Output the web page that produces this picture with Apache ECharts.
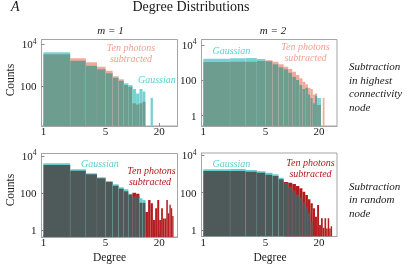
<!DOCTYPE html>
<html><head><meta charset="utf-8">
<script src="https://cdn.jsdelivr.net/npm/echarts@6/dist/echarts.min.js"></script>
<style>html,body{margin:0;padding:0;background:#fff}#c{width:407px;height:266px}</style>
</head><body><div id="c"></div>
<script>
// ---- data ----
const xTicks = [1, 5, 20];
const yTicks = [1, 100, 10000];

// top-left: m = 1, subtraction in highest connectivity node
const degTL = [1,2,3,4,5,6,7,8,9,10,11,12,13,14,15,16];
const gaussTL = [4240,1700,980,657,424,263,190,142,118,76,47,76,57,0,0,29];
const tenTL   = [3400,2195,1415,880,567,305,219,118,95,16,14,16,19,0,0,0];

// top-right: m = 2, subtraction in highest connectivity node
const degTR = [1,2,3,4,5,6,7,8,9,10,11,12,13,14,15,16,17,18,19,20,21,22];
const gaussTR = [1670,1740,1800,1600,1180,800,540,417,270,160,104,54,32,38,16,10,5,14,10,10,0,0];
const tenTR   = [1080,1130,1130,1230,1345,1130,800,590,435,307,199,129,84,59,38,32,16,18,4,4,0,10];

// bottom-left: m = 1, subtraction in random node
const degBL = [1,2,3,4,5,6,7,8,9,10,11,12,13,14,15,16,17,18,19,20,21,22,23,24,25,26,27,28];
const gaussBL = [4045,1930,1177,718,456,303,209,163,95,66,66,54,44,0,0,0,0,0,0,0,0,0,0,0,0,0,0,0];
const tenBL   = [3290,1635,1040,635,404,257,177,128,85,108,95,31,31,10,44,29,3.7,16,44,3.7,16,4.5,4.5,44,8.4,24,16,6];

// bottom-right: m = 2, subtraction in random node
const degBR = [1,2,3,4,5,6,7,8,9,10,11,12,13,14,15,16,17,18,19,20,21,22,23,24,25,26,27];
const gaussBR = [1790,1860,1650,1400,1186,966,640,318,194,128,75,50,29,16.4,7.8,2.8,0,0,0,0,0,0,0,0,0,0,0];
const tenBR   = [1460,1460,1340,1186,926,786,521,375,345,293,229,172,114,75,44,27,14.5,5.2,22,1.85,4.2,1.3,4.2,1.2,4.2,1.2,1.6];

// ---- layout / style ----
const SERIF = 'Liberation Serif';
const topCols = {g:'#74d3d2', t:'#f2a898', o:'#6c9d8e'};
const botCols = {g:'#62cfcf', t:'#b3191c', o:'#4e5a5a'};
const panels = [
  {deg:degTL, g:gaussTL, t:tenTL, left:41.5, top:39.5, width:136, height:86.5, xmin:0.952, xmax:32.1, ymin:1.315, ymax:17300, c:topCols},
  {deg:degTR, g:gaussTR, t:tenTR, left:201.5, top:39.5, width:135.5, height:86.5, xmin:0.954, xmax:31.8, ymin:0.262, ymax:20200, c:topCols},
  {deg:degBL, g:gaussBL, t:tenBL, left:41.5, top:153.5, width:136, height:83.5, xmin:0.952, xmax:32.1, ymin:0.454, ymax:13600, c:botCols},
  {deg:degBR, g:gaussBR, t:tenBR, left:201.5, top:153, width:135.5, height:83.5, xmin:0.954, xmax:31.8, ymin:0.448, ymax:13450, c:botCols}
];

const L = Math.log10;
function yFmt(v){
  const n = Math.round(Math.pow(10, v));
  if (n >= 1000) return '{b|10}{s|' + Math.round(v) + '}';
  return '{b|' + n + '}';
}
function makeRender(p){
  return function(params, api){
    const k = api.value(0), g = api.value(1), t = api.value(2);
    const lx0 = L(k), lx1 = L(k + 1), lb = L(p.ymin);
    const b0 = api.coord([lx0, lb]), b1 = api.coord([lx1, lb]);
    const x0 = b0[0], x1 = b1[0], yb = b0[1];
    const hi = Math.max(g, t), lo = Math.min(g, t);
    const ch = [];
    if (hi > 0){
      const yh = api.coord([lx0, L(hi)])[1];
      ch.push({type:'rect', shape:{x:x0, y:yh, width:x1-x0, height:yb-yh},
        style:{fill: g >= t ? p.c.g : p.c.t, stroke:'rgba(255,255,255,0.1)', lineWidth:0.5}});
    }
    if (lo > 0){
      const yl = api.coord([lx0, L(lo)])[1];
      ch.push({type:'rect', shape:{x:x0, y:yl, width:x1-x0, height:yb-yl},
        style:{fill: p.c.o, stroke:'rgba(255,255,255,0.08)', lineWidth:0.5}});
    }
    return {type:'group', children:ch};
  };
}

const grid = [], xAxis = [], yAxis = [], series = [];
panels.forEach((p, i) => {
  grid.push({left:p.left, top:p.top, width:p.width, height:p.height, show:true,
    borderColor:'#a5a5a5', borderWidth:1, backgroundColor:'transparent'});
  xAxis.push({gridIndex:i, type:'value', min:L(p.xmin), max:L(p.xmax),
    splitLine:{show:false},
    axisLine:{show:true, onZero:false, lineStyle:{color:'#a5a5a5'}},
    axisTick:{show:true, inside:true, length:3, lineStyle:{color:'#888'}, customValues:xTicks.map(L)},
    axisLabel:{customValues:xTicks.map(L), margin:1,
      formatter: v => String(Math.round(Math.pow(10, v))),
      color:'#1a1a1a', fontFamily:SERIF, fontSize:11}});
  yAxis.push({gridIndex:i, type:'value', min:L(p.ymin), max:L(p.ymax),
    splitLine:{show:false},
    axisLine:{show:true, onZero:false, lineStyle:{color:'#a5a5a5'}},
    axisTick:{show:true, inside:true, length:3, lineStyle:{color:'#888'}, customValues:yTicks.map(L)},
    axisLabel:{customValues:yTicks.map(L), margin:5, formatter:yFmt,
      color:'#1a1a1a', fontFamily:SERIF,
      rich:{b:{fontFamily:SERIF, fontSize:11, color:'#1a1a1a', lineHeight:13, verticalAlign:'bottom'},
            s:{fontFamily:SERIF, fontSize:7.5, color:'#1a1a1a', lineHeight:13, verticalAlign:'top', padding:[0,0,5,0]}}}});
  series.push({type:'custom', xAxisIndex:i, yAxisIndex:i, clip:true,
    renderItem: makeRender(p),
    data: p.deg.map((k, j) => [k, p.g[j], p.t[j]])});
});

function txt(x, y, s, o){
  o = o || {};
  return {type:'text', x:x, y:y, rotation:o.rot || 0, silent:true,
    style:{text:s, fill:o.fill || '#1a1a1a', textAlign:o.align || 'left', textVerticalAlign:'middle',
      font:(o.italic ? 'italic ' : '') + (o.size || 11) + 'px "' + SERIF + '"'}};
}
const sal = '#f0a292', cya = '#5ccfd0', red = '#b5161c';
const graphic = [
  txt(11, 7, 'A', {italic:true, size:14}),
  txt(191, 7, 'Degree Distributions', {align:'center', size:14}),
  txt(110.5, 31.5, 'm = 1', {italic:true, align:'center', size:11}),
  txt(273, 31.5, 'm = 2', {italic:true, align:'center', size:11}),
  txt(11, 80, 'Counts', {align:'center', size:11.5, rot:Math.PI/2}),
  txt(11, 190, 'Counts', {align:'center', size:11.5, rot:Math.PI/2}),
  txt(109.5, 258, 'Degree', {align:'center', size:11.5}),
  txt(270, 258, 'Degree', {align:'center', size:11.5}),
  txt(349, 67.5, 'Subtraction', {italic:true}),
  txt(349, 81, 'in highest', {italic:true}),
  txt(349, 94.5, 'connectivity', {italic:true}),
  txt(349, 108, 'node', {italic:true}),
  txt(349, 187, 'Subtraction', {italic:true}),
  txt(349, 200.5, 'in random', {italic:true}),
  txt(349, 214, 'node', {italic:true}),
  // panel annotations
  txt(131, 48.5, 'Ten photons', {italic:true, align:'center', size:10, fill:sal}),
  txt(131, 59.5, 'subtracted', {italic:true, align:'center', size:10, fill:sal}),
  txt(138, 80.5, 'Gaussian', {italic:true, size:10, fill:cya}),
  txt(212.5, 51, 'Gaussian', {italic:true, size:10, fill:cya}),
  txt(305.5, 47, 'Ten photons', {italic:true, align:'center', size:10, fill:sal}),
  txt(305.5, 58, 'subtracted', {italic:true, align:'center', size:10, fill:sal}),
  txt(81, 164, 'Gaussian', {italic:true, size:10, fill:cya}),
  txt(151.5, 171.5, 'Ten photons', {italic:true, align:'center', size:10, fill:red}),
  txt(150, 182.5, 'subtracted', {italic:true, align:'center', size:10, fill:red}),
  txt(212.5, 164, 'Gaussian', {italic:true, size:10, fill:cya}),
  txt(310.5, 163, 'Ten photons', {italic:true, align:'center', size:10, fill:red}),
  txt(310.5, 174, 'subtracted', {italic:true, align:'center', size:10, fill:red})
];

const chart = echarts.init(document.getElementById('c'), null, {renderer:'canvas'});
chart.setOption({animation:false, backgroundColor:'#fff', grid, xAxis, yAxis, series, graphic});
</script></body></html>
